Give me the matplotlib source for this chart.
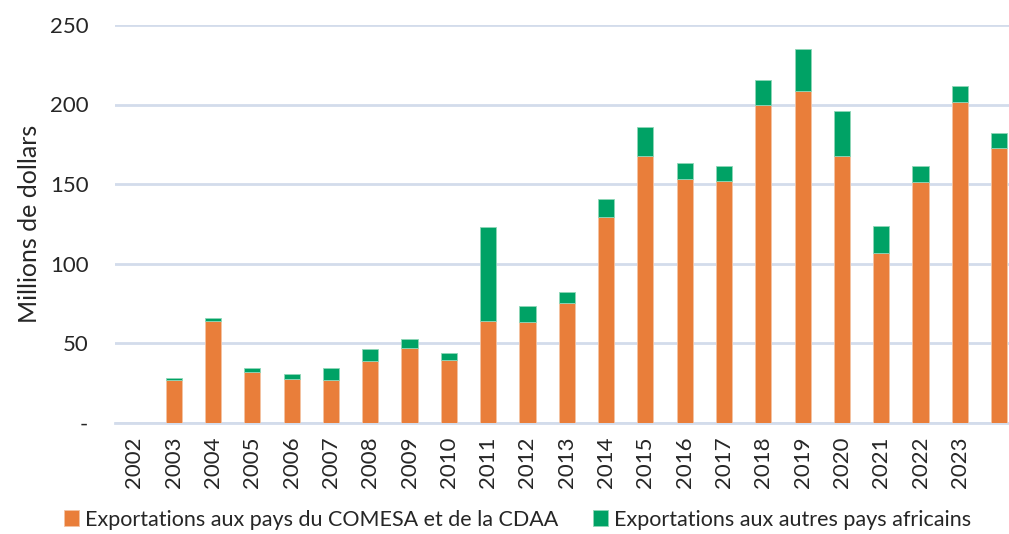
import numpy as np
import matplotlib
matplotlib.use("Agg")
import matplotlib.pyplot as plt

years = ["2002", "2003", "2004", "2005", "2006", "2007", "2008", "2009", "2010",
         "2011", "2012", "2013", "2014", "2015", "2016", "2017", "2018", "2019",
         "2020", "2021", "2022", "2023", ""]
comesa_cdaa = [0, 26.8, 63.7, 31.6, 27.6, 27.0, 38.9, 46.9, 39.2,
               63.7, 63.3, 75.1, 129.4, 167.4, 153.1, 151.9, 199.5, 208.6,
               167.6, 106.3, 151.4, 201.4, 172.4]
totals = [0, 28.1, 65.8, 34.3, 30.8, 34.1, 46.5, 52.8, 44.0,
          122.7, 73.4, 82.0, 140.5, 185.6, 163.2, 161.5, 215.5, 235.2,
          196.0, 123.5, 161.1, 211.9, 182.1]
other_africa = [t - c for t, c in zip(totals, comesa_cdaa)]

yticks = [0, 50, 100, 150, 200, 250]
ytick_labels = ["-", "50", "100", "150", "200", "250"]

plt.rcParams['font.family'] = ['Lato', 'DejaVu Sans']
text_col = '#262626'
grid_col = '#D3DCEB'
orange = '#E97E3A'
green = '#00A265'

fig = plt.figure(figsize=(10.09, 5.34), dpi=100)
ax = fig.add_axes([114.75 / 1009, (534 - 422.5) / 534, 1 - 114.75 / 1009, 397.5 / 534])

x = np.arange(len(years))
w = 0.41
ax.bar(x, comesa_cdaa, w, color=orange, edgecolor='#F4C3A3', linewidth=0.6,
       label="Exportations aux pays du COMESA et de la CDAA", zorder=3)
ax.bar(x, other_africa, w, bottom=comesa_cdaa, color=green, edgecolor='#8FD6B8',
       linewidth=0.6, label="Exportations aux autres pays africains", zorder=3)

ax.set_xlim(-0.5, 22.25)
ax.set_ylim(0, 250)
ax.set_yticks(yticks)
ax.set_yticklabels(ytick_labels)
ax.set_xticks(x)
ax.set_xticklabels(years, rotation=90)
ax.yaxis.grid(True, color=grid_col, linewidth=2, zorder=0)
ax.set_axisbelow(True)
for s in ['top', 'right', 'left']:
    ax.spines[s].set_visible(False)
ax.spines['bottom'].set_color(grid_col)
ax.spines['bottom'].set_linewidth(2)
ax.tick_params(axis='y', length=0, labelsize=16, colors=text_col, pad=19)
ax.tick_params(axis='x', length=0, labelsize=16, colors=text_col, pad=10)
ax.set_ylabel("Millions de dollars", fontsize=18, color=text_col, labelpad=6)

fig.legend(loc='lower center', bbox_to_anchor=(0.513, -0.028), ncol=2, frameon=False,
           fontsize=15.5, handlelength=0.7, handleheight=0.75, handletextpad=0.3,
           columnspacing=1.6, labelcolor=text_col)

fig.savefig("out.png", dpi=100)
